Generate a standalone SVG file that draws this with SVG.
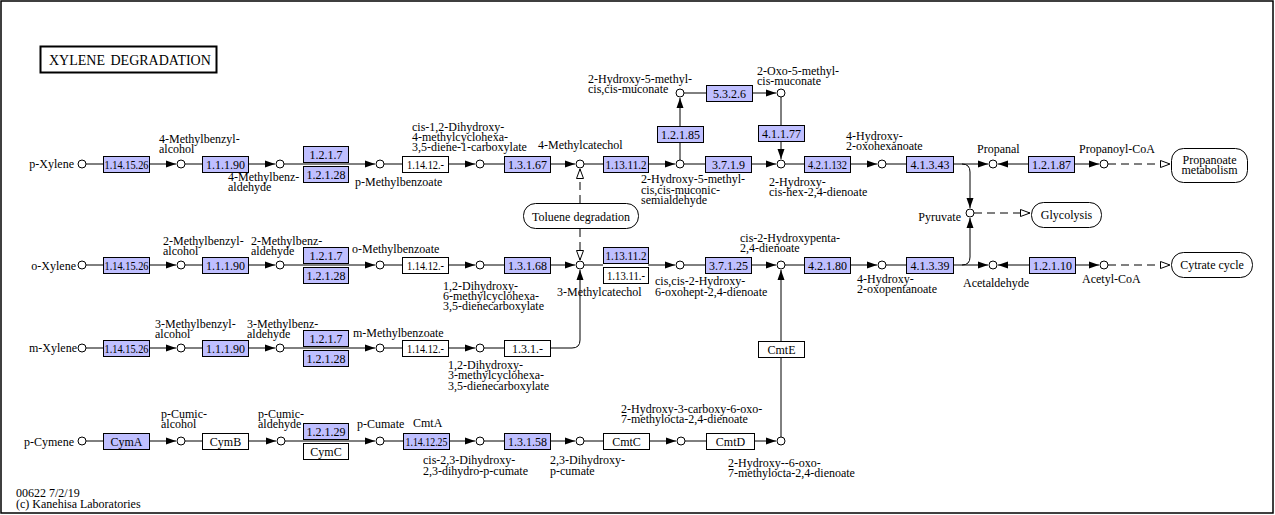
<svg xmlns="http://www.w3.org/2000/svg" width="1275" height="515" viewBox="0 0 1275 515">
<style>
text{font-family:"Liberation Serif","Times New Roman",serif;font-size:12px;fill:#000}
.t{font-size:14px;word-spacing:2px}
.e{fill:#bfbfff;stroke:#000;stroke-width:1}
.w{fill:#fff;stroke:#000;stroke-width:1}
.c{fill:#fff;stroke:#000;stroke-width:1}
.m{fill:#fff;stroke:#000;stroke-width:1}
.l{fill:none;stroke:#000;stroke-width:1}
.a{fill:none;stroke:#000;stroke-width:1;marker-end:url(#arr)}
.d{fill:none;stroke:#000;stroke-width:1;stroke-dasharray:8,5;marker-end:url(#oarr)}
.el{text-anchor:middle}
</style>
<defs>
<marker id="arr" markerUnits="userSpaceOnUse" markerWidth="10" markerHeight="8" refX="10" refY="4" orient="auto"><path d="M0,0.5 L10,4 L0,7.5 z" fill="#000"/></marker>
<marker id="oarr" markerUnits="userSpaceOnUse" markerWidth="11" markerHeight="9" refX="10" refY="4.5" orient="auto"><path d="M0.5,1 L10,4.5 L0.5,8 z" fill="#fff" stroke="#000"/></marker>
</defs>
<rect x="0" y="0" width="1275" height="515" fill="#fff"/>
<rect x="1" y="1" width="1272" height="512" fill="none" stroke="#000" stroke-width="1.5"/>
<g id="title"><rect x="40.5" y="46.5" width="176" height="26" fill="#fff" stroke="#000" stroke-width="2"/><text class="t" x="49" y="65">XYLENE DEGRADATION</text></g>

<g id="connectors">
<path class="l" d="M86,164H103"/><path class="a" d="M150,164H176"/><path class="l" d="M185,164H202"/><path class="a" d="M248,164H275"/>
<path class="a" d="M284,164H375"/><path class="l" d="M384,164H402"/><path class="a" d="M448,164H475"/><path class="l" d="M484,164H504"/>
<path class="a" d="M550,164H575"/><path class="l" d="M584,164H603"/><path class="a" d="M648,164H675"/><path class="l" d="M684,164H705"/>
<path class="a" d="M751,164H776"/><path class="l" d="M785,164H804"/><path class="a" d="M850,164H877"/><path class="l" d="M886,164H906"/>
<path class="a" d="M953,164H988"/><path class="a" d="M1028,164H998"/><path class="a" d="M1074,164H1099"/><path class="d" d="M1108,164H1170"/>
<path class="a" d="M962,164Q970,164 970,172V208"/>
<path class="a" d="M962,265Q970,265 970,257V218"/>
<path class="d" d="M974,213H1030"/>
<path class="a" d="M680,160V98"/><path class="l" d="M684,93H706"/><path class="a" d="M752,93H776"/><path class="a" d="M781,97V159"/>
<path class="d" d="M580,203V169"/><path class="d" d="M580,229V260"/>
<path class="l" d="M86,265H103"/><path class="a" d="M150,265H176"/><path class="l" d="M185,265H202"/><path class="a" d="M248,265H275"/>
<path class="a" d="M284,265H375"/><path class="l" d="M384,265H402"/><path class="a" d="M448,265H475"/><path class="l" d="M484,265H504"/>
<path class="a" d="M550,265H575"/><path class="l" d="M584,265H603"/><path class="a" d="M648,265H675"/><path class="l" d="M684,265H705"/>
<path class="a" d="M751,265H776"/><path class="l" d="M785,265H804"/><path class="a" d="M850,265H877"/><path class="l" d="M886,265H906"/>
<path class="a" d="M953,265H988"/><path class="a" d="M1029,265H998"/><path class="a" d="M1075,265H1099"/><path class="d" d="M1108,265H1170"/>
<path class="l" d="M86,348H103"/><path class="a" d="M150,348H176"/><path class="l" d="M185,348H202"/><path class="a" d="M248,348H275"/>
<path class="a" d="M284,348H375"/><path class="l" d="M384,348H402"/><path class="a" d="M448,348H475"/><path class="l" d="M484,348H504"/>
<path class="a" d="M551,348H572Q580,348 580,340V270"/>
<path class="a" d="M781,437V270"/>
<path class="l" d="M86,441H103"/><path class="a" d="M150,441H176"/><path class="l" d="M185,441H202"/><path class="a" d="M248,441H276"/>
<path class="a" d="M285,441H375"/><path class="l" d="M384,441H403"/><path class="a" d="M449,441H475"/><path class="l" d="M484,441H504"/>
<path class="a" d="M550,441H575"/><path class="l" d="M584,441H603"/><path class="a" d="M649,441H676"/><path class="l" d="M685,441H706"/>
<path class="a" d="M754,441H776"/>
</g>

<g id="c_pxylene"><circle class="c" cx="82" cy="164" r="4"/><text x="74" y="168" text-anchor="end">p-Xylene</text></g>
<g id="c_4mbalc"><circle class="c" cx="181" cy="164" r="4"/><text x="159" y="143">4-Methylbenzyl-</text><text x="159" y="153">alcohol</text></g>
<g id="c_4mbald"><circle class="c" cx="280" cy="164" r="4"/><text x="228" y="181">4-Methylbenz-</text><text x="228" y="191">aldehyde</text></g>
<g id="c_pmb"><circle class="c" cx="380" cy="164" r="4"/><text x="355" y="186">p-Methylbenzoate</text></g>
<g id="c_cis12"><circle class="c" cx="480" cy="164" r="4"/><text x="412" y="131">cis-1,2-Dihydroxy-</text><text x="412" y="141">4-methylcyclohexa-</text><text x="412" y="151">3,5-diene-1-carboxylate</text></g>
<g id="c_4mc"><circle class="c" cx="580" cy="164" r="4"/><text x="538" y="149">4-Methylcatechol</text></g>
<g id="c_2h5mcms"><circle class="c" cx="680" cy="164" r="4"/><text x="641" y="183">2-Hydroxy-5-methyl-</text><text x="641" y="193.5">cis,cis-muconic-</text><text x="641" y="204">semialdehyde</text></g>
<g id="c_2h5mcm"><circle class="c" cx="680" cy="93" r="4"/><text x="588" y="83">2-Hydroxy-5-methyl-</text><text x="588" y="93">cis,cis-muconate</text></g>
<g id="c_2o5m"><circle class="c" cx="781" cy="93" r="4"/><text x="757" y="75">2-Oxo-5-methyl-</text><text x="757" y="85">cis-muconate</text></g>
<g id="c_2hch"><circle class="c" cx="781" cy="164" r="4"/><text x="769" y="186">2-Hydroxy-</text><text x="769" y="196">cis-hex-2,4-dienoate</text></g>
<g id="c_4h2oh"><circle class="c" cx="882" cy="164" r="4"/><text x="846" y="140">4-Hydroxy-</text><text x="846" y="150">2-oxohexanoate</text></g>
<g id="c_propanal"><circle class="c" cx="993" cy="164" r="4"/><text x="977" y="153">Propanal</text></g>
<g id="c_propcoa"><circle class="c" cx="1104" cy="164" r="4"/><text x="1079" y="153">Propanoyl-CoA</text></g>
<g id="c_pyruvate"><circle class="c" cx="970" cy="213" r="4"/><text x="961" y="221" text-anchor="end">Pyruvate</text></g>
<g id="c_oxylene"><circle class="c" cx="82" cy="265" r="4"/><text x="76" y="270" text-anchor="end">o-Xylene</text></g>
<g id="c_2mbalc"><circle class="c" cx="181" cy="265" r="4"/><text x="163" y="245">2-Methylbenzyl-</text><text x="163" y="255">alcohol</text></g>
<g id="c_2mbald"><circle class="c" cx="280" cy="265" r="4"/><text x="251" y="245">2-Methylbenz-</text><text x="251" y="255">aldehyde</text></g>
<g id="c_omb"><circle class="c" cx="380" cy="265" r="4"/><text x="352" y="253">o-Methylbenzoate</text></g>
<g id="c_12d6"><circle class="c" cx="480" cy="265" r="4"/><text x="443" y="290">1,2-Dihydroxy-</text><text x="443" y="300">6-methylcyclohexa-</text><text x="443" y="310">3,5-dienecarboxylate</text></g>
<g id="c_3mc"><circle class="c" cx="580" cy="265" r="4"/><text x="557" y="296">3-Methylcatechol</text></g>
<g id="c_cc2h"><circle class="c" cx="680" cy="265" r="4"/><text x="655" y="285">cis,cis-2-Hydroxy-</text><text x="655" y="296">6-oxohept-2,4-dienoate</text></g>
<g id="c_c2hp"><circle class="c" cx="781" cy="265" r="4"/><text x="740" y="242">cis-2-Hydroxypenta-</text><text x="740" y="252">2,4-dienoate</text></g>
<g id="c_4h2op"><circle class="c" cx="882" cy="265" r="4"/><text x="857" y="283">4-Hydroxy-</text><text x="857" y="293">2-oxopentanoate</text></g>
<g id="c_acetald"><circle class="c" cx="993" cy="265" r="4"/><text x="963" y="287">Acetaldehyde</text></g>
<g id="c_acetcoa"><circle class="c" cx="1104" cy="265" r="4"/><text x="1082" y="283">Acetyl-CoA</text></g>
<g id="c_mxylene"><circle class="c" cx="82" cy="348" r="4"/><text x="77" y="352" text-anchor="end">m-Xylene</text></g>
<g id="c_3mbalc"><circle class="c" cx="181" cy="348" r="4"/><text x="155" y="328">3-Methylbenzyl-</text><text x="155" y="338">alcohol</text></g>
<g id="c_3mbald"><circle class="c" cx="280" cy="348" r="4"/><text x="247" y="328">3-Methylbenz-</text><text x="247" y="338">aldehyde</text></g>
<g id="c_mmb"><circle class="c" cx="380" cy="348" r="4"/><text x="353" y="337">m-Methylbenzoate</text></g>
<g id="c_12d3"><circle class="c" cx="480" cy="348" r="4"/><text x="448" y="369">1,2-Dihydroxy-</text><text x="448" y="379">3-methylcyclohexa-</text><text x="448" y="390">3,5-dienecarboxylate</text></g>
<g id="c_pcymene"><circle class="c" cx="82" cy="441" r="4"/><text x="74" y="446" text-anchor="end">p-Cymene</text></g>
<g id="c_pcumalc"><circle class="c" cx="181" cy="441" r="4"/><text x="161" y="418">p-Cumic-</text><text x="161" y="428">alcohol</text></g>
<g id="c_pcumald"><circle class="c" cx="281" cy="441" r="4"/><text x="258" y="418">p-Cumic-</text><text x="258" y="428">aldehyde</text></g>
<g id="c_pcumate"><circle class="c" cx="380" cy="441" r="4"/><text x="357" y="428">p-Cumate</text></g>
<g id="c_cis23"><circle class="c" cx="480" cy="441" r="4"/><text x="423" y="464">cis-2,3-Dihydroxy-</text><text x="423" y="475">2,3-dihydro-p-cumate</text></g>
<g id="c_23dhpc"><circle class="c" cx="580" cy="441" r="4"/><text x="550" y="464">2,3-Dihydroxy-</text><text x="550" y="475">p-cumate</text></g>
<g id="c_2h3c"><circle class="c" cx="681" cy="441" r="4"/><text x="621" y="413">2-Hydroxy-3-carboxy-6-oxo-</text><text x="621" y="423">7-methylocta-2,4-dienoate</text></g>
<g id="c_2h6o"><circle class="c" cx="781" cy="441" r="4"/><text x="728" y="467">2-Hydroxy--6-oxo-</text><text x="728" y="477">7-methylocta-2,4-dienoate</text></g>

<g id="e_r1_1"><rect class="e" x="103.5" y="156.5" width="46" height="16"/><text class="el" x="126.5" y="168.5" textLength="44" lengthAdjust="spacingAndGlyphs">1.14.15.26</text></g>
<g id="e_r1_2"><rect class="e" x="202.5" y="156.5" width="46" height="16"/><text class="el" x="225.5" y="168.5">1.1.1.90</text></g>
<g id="e_r1_3"><rect class="e" x="303.5" y="146.5" width="45" height="16"/><text class="el" x="326" y="158.5">1.2.1.7</text></g>
<g id="e_r1_4"><rect class="e" x="303.5" y="166.5" width="45" height="16"/><text class="el" x="326" y="178.5">1.2.1.28</text></g>
<g id="e_r1_5"><rect class="w" x="402.5" y="156.5" width="46" height="16"/><text class="el" x="425.5" y="168.5" textLength="37" lengthAdjust="spacingAndGlyphs">1.14.12.-</text></g>
<g id="e_r1_6"><rect class="e" x="504.5" y="156.5" width="46" height="16"/><text class="el" x="527.5" y="168.5">1.3.1.67</text></g>
<g id="e_r1_7"><rect class="e" x="603.5" y="156.5" width="45" height="16"/><text class="el" x="626" y="168.5" textLength="41" lengthAdjust="spacingAndGlyphs">1.13.11.2</text></g>
<g id="e_r1_8"><rect class="e" x="705.5" y="156.5" width="46" height="16"/><text class="el" x="728.5" y="168.5">3.7.1.9</text></g>
<g id="e_r1_9"><rect class="e" x="804.5" y="156.5" width="46" height="16"/><text class="el" x="827.5" y="168.5" textLength="39" lengthAdjust="spacingAndGlyphs">4.2.1.132</text></g>
<g id="e_r1_10"><rect class="e" x="906.5" y="156.5" width="47" height="16"/><text class="el" x="930" y="168.5">4.1.3.43</text></g>
<g id="e_r1_11"><rect class="e" x="1028.5" y="156.5" width="46" height="16"/><text class="el" x="1051.5" y="168.5">1.2.1.87</text></g>
<g id="e_up_1"><rect class="e" x="657.5" y="126.5" width="46" height="16"/><text class="el" x="680.5" y="138.5">1.2.1.85</text></g>
<g id="e_up_2"><rect class="e" x="706.5" y="85.5" width="46" height="16"/><text class="el" x="729.5" y="97.5">5.3.2.6</text></g>
<g id="e_up_3"><rect class="e" x="758.5" y="125.5" width="46" height="16"/><text class="el" x="781.5" y="137.5">4.1.1.77</text></g>
<g id="e_r2_1"><rect class="e" x="103.5" y="257.5" width="46" height="16"/><text class="el" x="126.5" y="269.5" textLength="44" lengthAdjust="spacingAndGlyphs">1.14.15.26</text></g>
<g id="e_r2_2"><rect class="e" x="202.5" y="257.5" width="46" height="16"/><text class="el" x="225.5" y="269.5">1.1.1.90</text></g>
<g id="e_r2_3"><rect class="e" x="303.5" y="247.5" width="45" height="16"/><text class="el" x="326" y="259.5">1.2.1.7</text></g>
<g id="e_r2_4"><rect class="e" x="303.5" y="267.5" width="45" height="16"/><text class="el" x="326" y="279.5">1.2.1.28</text></g>
<g id="e_r2_5"><rect class="w" x="402.5" y="257.5" width="46" height="16"/><text class="el" x="425.5" y="269.5" textLength="37" lengthAdjust="spacingAndGlyphs">1.14.12.-</text></g>
<g id="e_r2_6"><rect class="e" x="504.5" y="257.5" width="46" height="16"/><text class="el" x="527.5" y="269.5">1.3.1.68</text></g>
<g id="e_r2_7"><rect class="e" x="603.5" y="247.5" width="45" height="16"/><text class="el" x="626" y="259.5" textLength="41" lengthAdjust="spacingAndGlyphs">1.13.11.2</text></g>
<g id="e_r2_8"><rect class="w" x="603.5" y="267.5" width="45" height="16"/><text class="el" x="626" y="279.5" textLength="38" lengthAdjust="spacingAndGlyphs">1.13.11.-</text></g>
<g id="e_r2_9"><rect class="e" x="705.5" y="257.5" width="46" height="16"/><text class="el" x="728.5" y="269.5">3.7.1.25</text></g>
<g id="e_r2_10"><rect class="e" x="804.5" y="257.5" width="46" height="16"/><text class="el" x="827.5" y="269.5">4.2.1.80</text></g>
<g id="e_r2_11"><rect class="e" x="906.5" y="257.5" width="47" height="16"/><text class="el" x="930" y="269.5">4.1.3.39</text></g>
<g id="e_r2_12"><rect class="e" x="1029.5" y="257.5" width="46" height="16"/><text class="el" x="1052.5" y="269.5">1.2.1.10</text></g>
<g id="e_r3_1"><rect class="e" x="103.5" y="340.5" width="46" height="16"/><text class="el" x="126.5" y="352.5" textLength="44" lengthAdjust="spacingAndGlyphs">1.14.15.26</text></g>
<g id="e_r3_2"><rect class="e" x="202.5" y="340.5" width="46" height="16"/><text class="el" x="225.5" y="352.5">1.1.1.90</text></g>
<g id="e_r3_3"><rect class="e" x="303.5" y="330.5" width="45" height="16"/><text class="el" x="326" y="342.5">1.2.1.7</text></g>
<g id="e_r3_4"><rect class="e" x="303.5" y="350.5" width="45" height="16"/><text class="el" x="326" y="362.5">1.2.1.28</text></g>
<g id="e_r3_5"><rect class="w" x="402.5" y="340.5" width="46" height="16"/><text class="el" x="425.5" y="352.5" textLength="37" lengthAdjust="spacingAndGlyphs">1.14.12.-</text></g>
<g id="e_r3_6"><rect class="w" x="504.5" y="340.5" width="46" height="16"/><text class="el" x="527.5" y="352.5">1.3.1.-</text></g>
<g id="e_cmte"><rect class="w" x="758.5" y="341.5" width="46" height="16"/><text class="el" x="781.5" y="353.5">CmtE</text></g>
<g id="e_cyma"><rect class="e" x="103.5" y="433.5" width="46" height="16"/><text class="el" x="126.5" y="445.5">CymA</text></g>
<g id="e_cymb"><rect class="w" x="202.5" y="433.5" width="46" height="16"/><text class="el" x="225.5" y="445.5">CymB</text></g>
<g id="e_12129"><rect class="e" x="303.5" y="423.5" width="45" height="16"/><text class="el" x="326" y="435.5">1.2.1.29</text></g>
<g id="e_cymc"><rect class="w" x="303.5" y="443.5" width="45" height="16"/><text class="el" x="326" y="455.5">CymC</text></g>
<g id="e_cmta"><rect class="e" x="403.5" y="433.5" width="46" height="16"/><text class="el" x="426.5" y="445.5" textLength="42" lengthAdjust="spacingAndGlyphs">1.14.12.25</text><text x="413" y="427">CmtA</text></g>
<g id="e_13158"><rect class="e" x="504.5" y="433.5" width="46" height="16"/><text class="el" x="527.5" y="445.5">1.3.1.58</text></g>
<g id="e_cmtc"><rect class="w" x="603.5" y="433.5" width="46" height="16"/><text class="el" x="626.5" y="445.5">CmtC</text></g>
<g id="e_cmtd"><rect class="w" x="706.5" y="433.5" width="48" height="16"/><text class="el" x="730.5" y="445.5">CmtD</text></g>

<g id="m_toluene"><rect class="m" x="523.5" y="203.5" width="115" height="25" rx="12"/><text class="el" x="581" y="221">Toluene degradation</text></g>
<g id="m_propanoate"><rect class="m" x="1171.5" y="148.5" width="76" height="34" rx="12"/><text class="el" x="1209.5" y="164">Propanoate</text><text class="el" x="1209.5" y="174">metabolism</text></g>
<g id="m_glycolysis"><rect class="m" x="1031.5" y="202.5" width="70" height="25" rx="12"/><text class="el" x="1066.5" y="219">Glycolysis</text></g>
<g id="m_citrate"><rect class="m" x="1171.5" y="252.5" width="81" height="25" rx="12"/><text class="el" x="1212" y="269">Cytrate cycle</text></g>

<g id="footer"><text x="16" y="497">00622 7/2/19</text><text x="16" y="508">(c) Kanehisa Laboratories</text></g>
</svg>
